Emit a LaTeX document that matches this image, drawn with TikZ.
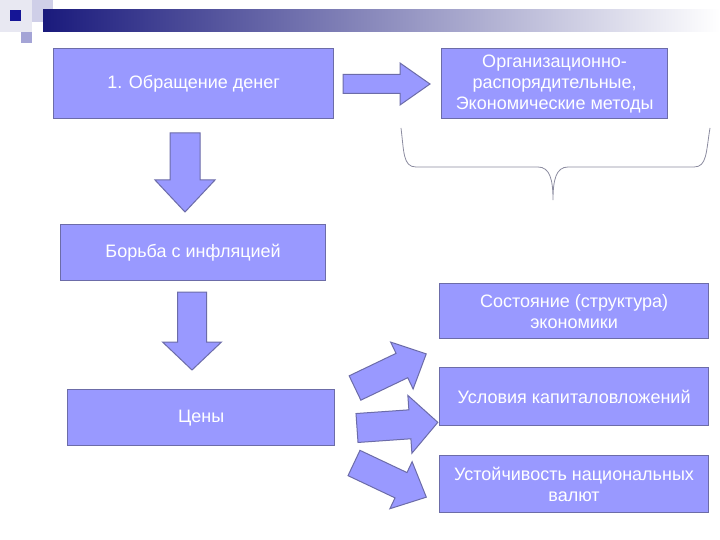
\documentclass[tikz,border=0pt]{standalone}
\usepackage{fontspec}
\setmainfont{Liberation Sans}
\usetikzlibrary{positioning, calc}
\definecolor{boxfill}{HTML}{9999FF}
\definecolor{boxedge}{HTML}{6C6CA8}
\definecolor{hdrnavy}{HTML}{1A1A7C}
\definecolor{hdrmid}{HTML}{B4B4CC}
\definecolor{hdrpale}{HTML}{E8E8F2}
\definecolor{hdrlav}{HTML}{CFCFE8}
\definecolor{hdrsq}{HTML}{A4A4D6}
\definecolor{bracegray}{HTML}{8C8CA0}

\begin{document}
\begin{tikzpicture}[
  x=1pt, y=-1pt,
  font=\fontsize{18}{21}\selectfont,
  box/.style={draw=boxedge, fill=boxfill, line width=1.2pt, text=white,
    align=center, anchor=north west, inner sep=2pt},
  arrbody/.style={draw=boxedge, fill=boxfill, line width=1pt, line join=miter},
  pics/fatarrow/.style n args={4}{code={%
    \draw[arrbody] (0,-#2) -- ({#1-#4},-#2) -- ({#1-#4},-#3) -- (#1,0)
      -- ({#1-#4},#3) -- ({#1-#4},#2) -- (0,#2) -- cycle;
  }}
]
\useasboundingbox[fill=white] (0,0) rectangle (720,540);

% header
\fill[hdrpale] (0,0) rectangle (32,32);
\fill[hdrlav] (32,0) rectangle (53,22);
\shade[left color=hdrnavy, middle color=hdrmid, right color=white] (43,10) rectangle (720,32);
\fill[hdrnavy!80!blue] (10,10) rectangle (21,21);
\fill[hdrsq] (21,32) rectangle (32,43);

% boxes
\node[box, minimum width=280pt, minimum height=70pt] (money) at (53,48) {1. Обращение денег};
\node[box, minimum width=226pt, minimum height=70pt] (methods) at (441,48)
  {Организационно-\\распорядительные,\\Экономические методы};
\node[box, minimum width=265pt, minimum height=56pt] (inflation) at (60,224) {Борьба с инфляцией};
\node[box, minimum width=267pt, minimum height=56pt] (prices) at (67,389) {Цены};
\node[box, minimum width=269pt, minimum height=55pt] (state) at (439,283)
  {Состояние (структура)\\экономики};
\node[box, minimum width=269pt, minimum height=58pt] (invest) at (439,367) {Условия капиталовложений};
\node[box, minimum width=269pt, minimum height=57pt] (currency) at (439,455)
  {Устойчивость национальных\\валют};

% block arrows
\pic at (343,84) {fatarrow={87}{9.5}{21}{30}};
\pic[rotate=-90] at (185,133) {fatarrow={79}{15}{30}{32}};
\pic[rotate=-90] at (192,292) {fatarrow={78}{14.5}{29.5}{28}};
\pic[rotate=25.6] at (355,388) {fatarrow={79}{13.5}{26}{27}};
\pic[rotate=4] at (357,428) {fatarrow={81}{14.5}{29}{28}};
\pic[rotate=-25.3] at (354,463) {fatarrow={80}{14}{26}{28}};

% brace under the methods box
\draw[bracegray, line width=0.8pt] (401,128) .. controls (404,152) and (403,167) .. (416,167)
  -- (538,167) .. controls (550,167) and (553,180) .. (553,200)
  .. controls (553,180) and (556,167) .. (568,167)
  -- (694,167) .. controls (707,167) and (706,152) .. (710,128);
\end{tikzpicture}
\end{document}
